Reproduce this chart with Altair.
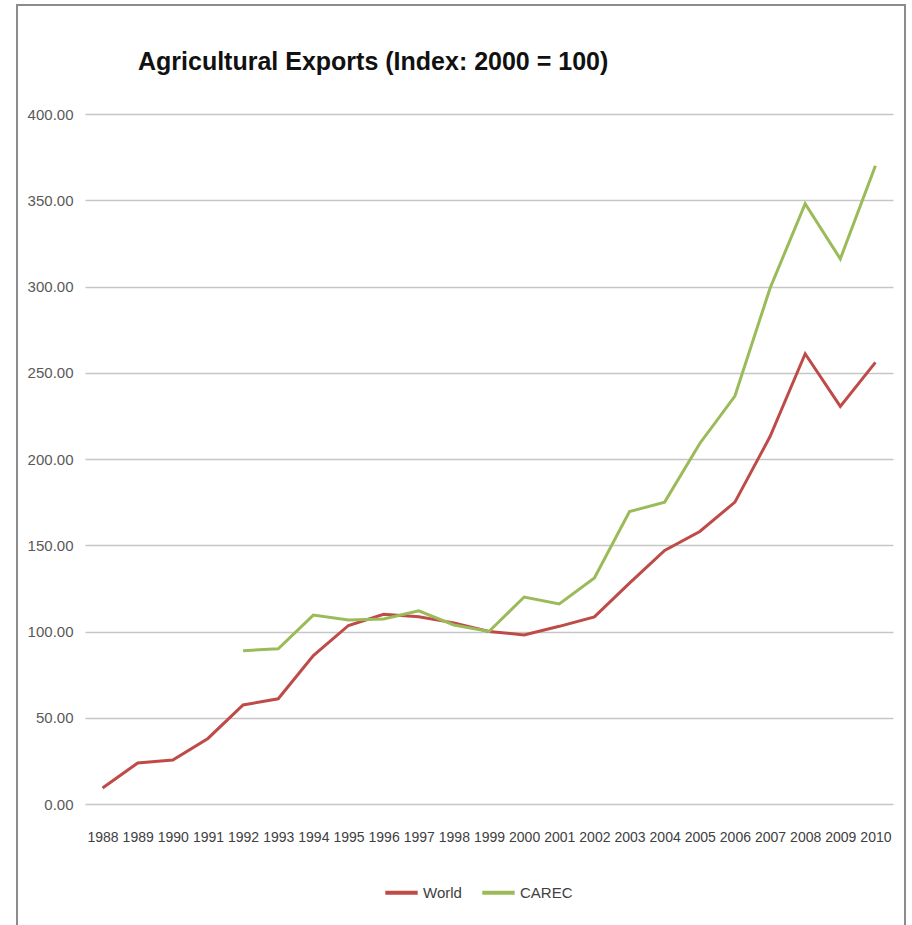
import altair as alt
import pandas as pd

years = [str(y) for y in range(1988, 2011)]
world = [9.3, 23.8, 25.5, 38.0, 57.4, 61.0, 86.0, 103.5, 110.0, 108.5, 105.0, 100.0,
         98.0, 103.0, 108.5, 128.0, 147.0, 158.0, 175.0, 213.0, 261.0, 230.5, 256.0]
carec = [None, None, None, None, 88.9, 90.0, 109.5, 106.7, 107.2, 112.0, 103.8, 100.0,
         120.0, 116.0, 131.0, 169.5, 175.0, 209.0, 236.5, 299.0, 348.0, 316.0, 370.0]
series = ["World", "CAREC"]
colors = ["#BE4B48", "#9BBB59"]
y_ticks = [0, 50, 100, 150, 200, 250, 300, 350, 400]

rows = []
for name, vals in zip(series, [world, carec]):
    for yr, v in zip(years, vals):
        if v is not None:
            rows.append({"Year": yr, "Series": name, "Value": v})
df = pd.DataFrame(rows)

FONT = "Liberation Sans, Arial, sans-serif"

lines = alt.Chart(df).mark_line(strokeWidth=3).encode(
    x=alt.X("Year:O", sort=years, title=None,
            scale=alt.Scale(type="point", padding=0.5),
            axis=alt.Axis(labelAngle=0, ticks=False, domain=False, grid=False,
                          labelFont=FONT, labelFontSize=14, labelColor="#404040",
                          labelPadding=26, labelOverlap=False)),
    y=alt.Y("Value:Q", title=None,
            scale=alt.Scale(domain=[0, 400], nice=False),
            axis=alt.Axis(values=y_ticks, format=".2f", ticks=False, domain=False,
                          grid=True, gridColor="#C6C6C6", gridWidth=1.5,
                          labelFont=FONT, labelFontSize=15, labelColor="#595959",
                          labelPadding=12)),
    color=alt.Color("Series:N", sort=series,
                    scale=alt.Scale(domain=series, range=colors),
                    legend=alt.Legend(title=None, orient="none", direction="horizontal",
                                      legendX=298, legendY=760,
                                      symbolType="stroke", symbolSize=1050,
                                      symbolStrokeWidth=4, labelFont=FONT,
                                      labelFontSize=15, labelColor="#404040",
                                      columnPadding=12, labelOffset=3)),
)

border = alt.Chart(pd.DataFrame({"a": [0]})).mark_rect(
    fill=None, stroke="#8C8C8C", strokeWidth=2
).encode(
    x=alt.value(-68), x2=alt.value(820), y=alt.value(-109), y2=alt.value(830)
)

chart = alt.layer(lines, border).properties(
    width=808, height=690,
    background="white",
    title=alt.TitleParams(
        "Agricultural Exports (Index: 2000 = 100)",
        anchor="start", frame="group", dx=53, offset=0, dy=91,
        baseline="alphabetic",
        font=FONT, fontSize=25, fontWeight="bold", color="#111111",
    ),
    autosize=alt.AutoSizeParams(type="none"),
    padding={"left": 85, "top": 114, "right": 19, "bottom": 121},
).configure_view(stroke="transparent", strokeWidth=0)

chart.save("out.html", embed_options={"renderer": "svg", "actions": False})
